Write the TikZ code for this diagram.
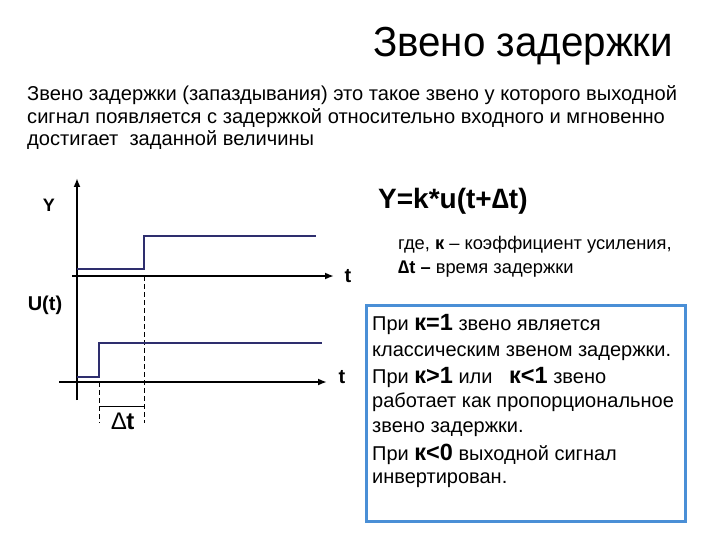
\documentclass[tikz,border=0pt]{standalone}
\usepackage{fontspec}
\setmainfont{Liberation Sans}
\newfontfamily\narrowfont[FakeStretch=0.96]{Liberation Sans}
\usetikzlibrary{arrows.meta}
\definecolor{sig}{HTML}{2E2E6E}
\definecolor{boxblue}{HTML}{4A8FD6}
\begin{document}
\begin{tikzpicture}[x=1pt,y=-1pt,
  txt/.style={inner sep=0pt,anchor=base west},
  axis/.style={line width=2.6pt,-{Latex[length=9pt,width=7pt]}},
  sigline/.style={sig,line width=2.2pt,line join=miter},
  dashline/.style={line width=0.7pt,dash pattern=on 5pt off 3pt},
  lbl/.style={inner sep=0pt,font=\bfseries\fontsize{20}{22}\selectfont}]
\useasboundingbox[fill=white] (0,0) rectangle (720,540);

% title and intro
\node[txt,font=\narrowfont\fontsize{42}{46}\selectfont] (title) at (373,57) {Звено задержки};
\node[txt,font=\fontsize{20.1}{23}\selectfont] (l1) at (27,101) {Звено задержки (запаздывания) это такое звено у которого выходной};
\node[txt,font=\fontsize{20.1}{23}\selectfont] (l2) at (27,124) {сигнал появляется с задержкой относительно входного и мгновенно};
\node[txt,font=\fontsize{20.1}{23}\selectfont] (l3) at (27,146) {достигает\ \ заданной величины};

% axes
\coordinate (ytop) at (77,178);
\coordinate (ybot) at (77,400);
\draw[axis] (ybot) -- (ytop);
\coordinate (a1s) at (72,276);
\coordinate (a1e) at (334,276);
\draw[axis] (a1s) -- (a1e);
\coordinate (a2s) at (59,382);
\coordinate (a2e) at (327,382);
\draw[axis] (a2s) -- (a2e);
\node[lbl] (tlab1) at (348,276) {t};
\node[lbl] (tlab2) at (342,377) {t};
\node[lbl,font=\bfseries\fontsize{18}{20}\selectfont] (ylab) at (49,205) {Y};
\node[lbl] (ulab) at (45,305) {U(t)};

% dashed lines
\coordinate (d1a) at (99,382);
\coordinate (d1b) at (99,423);
\coordinate (d2a) at (144,276);
\coordinate (d2b) at (144,423);
\draw[dashline] (d1a) -- (d1b);
\draw[dashline] (d2a) -- (d2b);
\coordinate (br1) at (99,406);
\coordinate (br2) at (144,406);
\draw[line width=0.8pt] (br1) -- (br2);
\node[inner sep=0pt,font=\fontsize{24}{26}\selectfont] (dt) at (123,421) {∆\textbf{t}};

% signals
\coordinate (o0) at (77,269);
\coordinate (o1) at (144,269);
\coordinate (o2) at (144,236);
\coordinate (o3) at (316,236);
\draw[sigline] (o0) -- (o1) -- (o2) -- (o3);
\coordinate (i0) at (77,377);
\coordinate (i1) at (99,377);
\coordinate (i2) at (99,343);
\coordinate (i3) at (322,343);
\draw[sigline] (i0) -- (i1) -- (i2) -- (i3);

% formula
\node[txt,font=\bfseries\fontsize{28}{30}\selectfont] (formula) at (378,209) {Y=k*u(t+∆t)};
\node[txt,font=\fontsize{18.3}{21}\selectfont] (f1) at (398,249) {где, \textbf{к} – коэффициент усиления,};
\node[txt,font=\fontsize{18.3}{21}\selectfont] (f2) at (398,273) {\textbf{∆t –} время задержки};

% box
\node[draw=boxblue,line width=2.8pt,fill=white,minimum width=319pt,minimum height=216pt,anchor=north west,inner sep=0pt] (box) at (365,304) {};
\begin{scope}[every node/.style={txt,font=\fontsize{20}{22}\selectfont}]
\node (b1) at (372,330) {При {\bfseries\fontsize{23.5}{24}\selectfont к=1} звено является};
\node (b2) at (372,356) {классическим звеном задержки.};
\node (b3) at (372,383) {При {\bfseries\fontsize{23.5}{24}\selectfont к>1} или\ \ \ {\bfseries\fontsize{23.5}{24}\selectfont к<1} звено};
\node (b4) at (372,407) {работает как пропорциональное};
\node (b5) at (372,432) {звено задержки.};
\node (b6) at (372,460) {При {\bfseries\fontsize{23.5}{24}\selectfont к<0} выходной сигнал};
\node (b7) at (372,483) {инвертирован.};
\end{scope}
\end{tikzpicture}
\end{document}
